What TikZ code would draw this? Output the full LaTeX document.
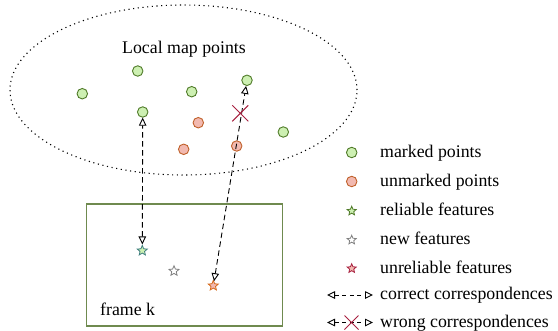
\documentclass[tikz,border=0pt]{standalone}
\usepackage{fontspec}
\setmainfont{Liberation Serif}
\usetikzlibrary{arrows.meta,shapes.geometric,shapes.misc}
\definecolor{gfill}{HTML}{CDF0B2}
\definecolor{gdraw}{HTML}{4F7A28}
\definecolor{rfill}{HTML}{F2B9B0}
\definecolor{rdraw}{HTML}{C0602A}
\definecolor{crim}{HTML}{A8203F}
\definecolor{framec}{HTML}{6F8A4F}
\definecolor{tealc}{HTML}{3F7F7F}
\definecolor{orgc}{HTML}{D66A1A}
\begin{document}
\begin{tikzpicture}[x=1pt,y=-1pt,
  lbl/.style={font=\fontsize{17.8}{21}\selectfont, inner sep=0},
  mpt/.style={circle, draw=gdraw, fill=gfill, line width=0.9pt, minimum size=10.5pt, inner sep=0},
  upt/.style={circle, draw=rdraw, fill=rfill, line width=0.9pt, minimum size=10.5pt, inner sep=0},
  feat/.style={star, star points=5, star point ratio=2.2, minimum size=10.5pt, inner sep=0, line width=0.8pt},
  tipo/.tip={Triangle[open,fill=white,length=8pt,width=7.5pt]},
  corr/.style={line width=0.9pt, dash pattern=on 5.5pt off 3.5pt, tipo-tipo},
  crossmark/.style={cross out, draw=crim, line width=1pt, inner sep=0}]
\useasboundingbox (0,0) rectangle (558,330);
% local map ellipse
\node[ellipse, draw, line width=1.1pt, dash pattern=on 1.1pt off 3.6pt, minimum width=347pt, minimum height=170pt, inner sep=0] (map) at (183.5,90) {};
\node[lbl, anchor=base] (maptitle) at (184,53) {Local map points};
% frame
\node[draw=framec, line width=1.1pt, minimum width=196pt, minimum height=122pt, inner sep=0] (frame) at (184.7,265) {};
\node[lbl, anchor=base west] (framelbl) at (100,315) {frame k};
% map points
\node[mpt] (g1) at (137.7,71) {};
\node[mpt] (g2) at (82.3,93.7) {};
\node[mpt] (g3) at (191.7,91.7) {};
\node[mpt] (g4) at (247,80.3) {};
\node[mpt] (g5) at (142.7,112) {};
\node[mpt] (g6) at (283.3,132) {};
\node[upt] (r1) at (198.3,122.7) {};
\node[upt] (r2) at (183.7,149.3) {};
\node[upt] (r3) at (236.7,146) {};
% features
\node[feat, draw=tealc, fill=gfill] (s1) at (142.3,250.7) {};
\node[feat, draw=gray, fill=white] (s2) at (174,271) {};
\node[feat, draw=orgc, fill=rfill] (s3) at (213.3,285.7) {};
% correspondences
\draw[corr] (s1) -- (g5);
\draw[corr] (s3) -- (g4);
\node[crossmark, minimum size=15pt] (x1) at (240.3,113.3) {};
% legend
\node[mpt] (lg1) at (351.7,152.5) {};
\node[lbl, anchor=base west] (lt1) at (380,157) {marked points};
\node[upt] (lg2) at (351.7,181.5) {};
\node[lbl, anchor=base west] (lt2) at (380,186) {unmarked points};
\node[feat, draw=gdraw, fill=gfill, minimum size=9.5pt] (lg3) at (351.7,211) {};
\node[lbl, anchor=base west] (lt3) at (380,215.5) {reliable features};
\node[feat, draw=gray, fill=white, minimum size=9.5pt] (lg4) at (351.7,240) {};
\node[lbl, anchor=base west] (lt4) at (380,244.5) {new features};
\node[feat, draw=crim, fill=rfill, minimum size=9.5pt] (lg5) at (351.7,268.5) {};
\node[lbl, anchor=base west] (lt5) at (380,273) {unreliable features};
\coordinate (la1) at (327,295);
\coordinate (la2) at (373,295);
\draw[corr, dash pattern=on 4pt off 3.5pt] (la1) -- (la2);
\node[lbl, anchor=base west] (lt6) at (380,299.5) {correct correspondences};
\coordinate (lb1) at (327,322.5);
\coordinate (lb2) at (373,322.5);
\draw[corr, dash pattern=on 4pt off 3.5pt] (lb1) -- (lb2);
\node[crossmark, minimum size=13pt] (lx) at (351.5,322.5) {};
\node[lbl, anchor=base west] (lt7) at (380,327) {wrong correspondences};
\end{tikzpicture}
\end{document}
